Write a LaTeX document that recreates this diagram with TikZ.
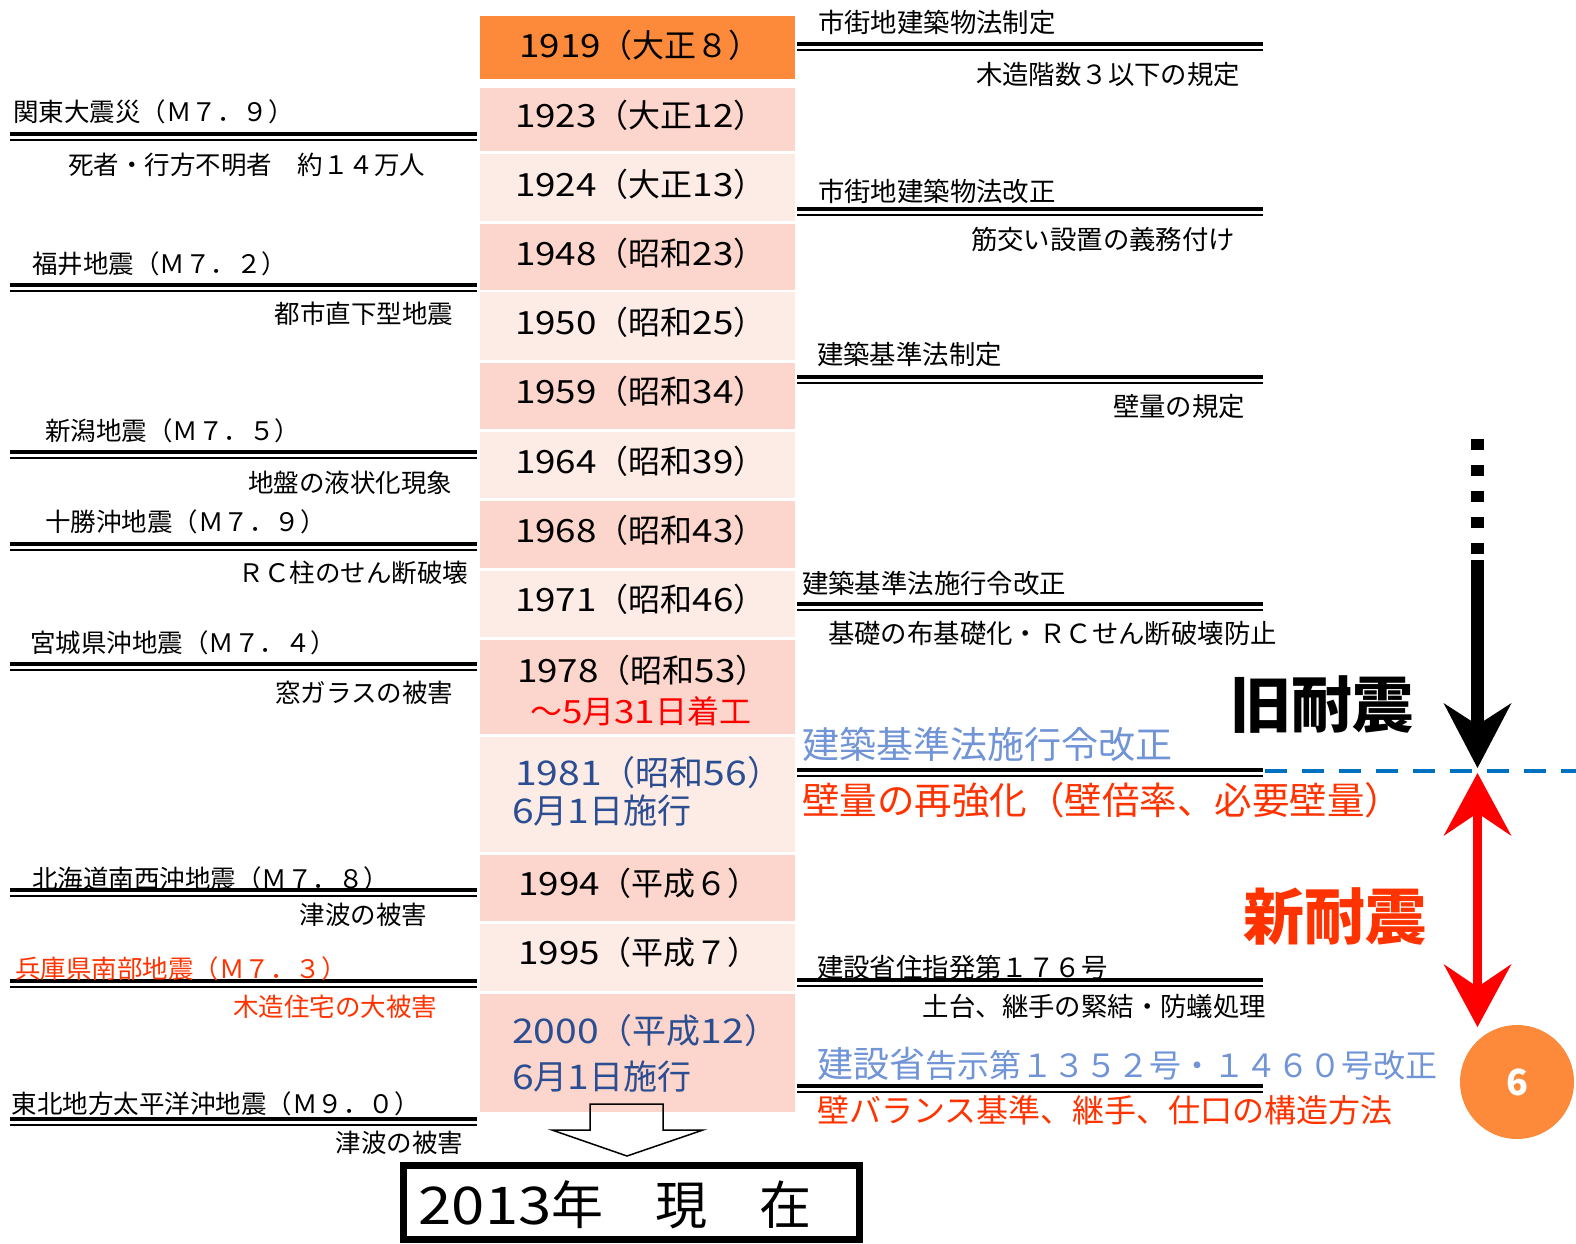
\documentclass[tikz,border=0pt]{standalone}
\usepackage{fontspec}
\setmainfont{Noto Sans CJK JP}
\newfontfamily\digitfont{Noto Sans CJK JP}[FakeStretch=1.15]
\newcommand\dg[1]{{\digitfont #1}}
\usetikzlibrary{arrows.meta}
\definecolor{boxorange}{RGB}{252,138,58}
\definecolor{rowdark}{RGB}{252,214,204}
\definecolor{rowlight}{RGB}{253,235,230}
\definecolor{alertred}{RGB}{255,51,0}
\definecolor{purered}{RGB}{255,0,0}
\definecolor{lawblue}{RGB}{112,148,214}
\definecolor{yearblue}{RGB}{43,77,145}
\definecolor{dashblue}{RGB}{0,112,192}
\tikzset{
  every node/.style={inner sep=0pt, outer sep=0pt},
  sml/.style={font=\fontsize{25.5}{30}\selectfont, text height=22pt, text depth=2.5pt},
  smr/.style={font=\fontsize{26.4}{30}\selectfont, text height=22.7pt, text depth=2.6pt},
  yr/.style={font=\fontsize{32}{36}\selectfont, text height=27.5pt, text depth=3.2pt},
  yrb/.style={font=\fontsize{34}{38}\selectfont, text height=29.2pt, text depth=3.4pt, text=yearblue},
  bigA/.style={font=\fontsize{37}{40}\selectfont, text height=31.8pt, text depth=3.7pt},
  bigB/.style={font=\fontsize{37.5}{40}\selectfont, text height=32.2pt, text depth=3.7pt},
  huge/.style={font=\bfseries\fontsize{61}{66}\selectfont, text height=52.5pt, text depth=6.1pt},
  rowbox/.style={minimum width=315pt, anchor=north west},
  ruleA/.style={line width=3.2pt},
  ruleB/.style={line width=2.6pt},
}
\newcommand\dblrule[3]{\draw[ruleA] (#1,#3) -- (#2,#3); \draw[ruleB] (#1,#3+6) -- (#2,#3+6);}
\begin{document}
\begin{tikzpicture}[x=1pt,y=-1pt]
\useasboundingbox[fill=white] (0,0) rectangle (1576,1243);

% timeline rows
\node[rowbox, fill=boxorange, minimum height=63pt] (r1919) at (480,16) {};
\node[rowbox, fill=rowdark,  minimum height=63pt] (r1923) at (480,88) {};
\node[rowbox, fill=rowlight, minimum height=67pt] (r1924) at (480,154) {};
\node[rowbox, fill=rowdark,  minimum height=66pt] (r1948) at (480,224) {};
\node[rowbox, fill=rowlight, minimum height=68pt] (r1950) at (480,292) {};
\node[rowbox, fill=rowdark,  minimum height=66pt] (r1959) at (480,363) {};
\node[rowbox, fill=rowlight, minimum height=66pt] (r1964) at (480,432) {};
\node[rowbox, fill=rowdark,  minimum height=67pt] (r1968) at (480,501) {};
\node[rowbox, fill=rowlight, minimum height=66pt] (r1971) at (480,571) {};
\node[rowbox, fill=rowdark,  minimum height=94pt] (r1978) at (480,640) {};
\node[rowbox, fill=rowlight, minimum height=115pt] (r1981) at (480,737) {};
\node[rowbox, fill=rowdark,  minimum height=66pt] (r1994) at (480,855) {};
\node[rowbox, fill=rowlight, minimum height=67pt] (r1995) at (480,924) {};
\node[rowbox, fill=rowdark,  minimum height=118pt] (r2000) at (480,994) {};

% year texts
\node[yr] (t1919) at (640,45) {\dg{1919}（大正８）};
\node[yr, anchor=west] (t1923) at (515,115) {\dg{1923}（大正\dg{12}）};
\node[yr, anchor=west] (t1924) at (515,184) {\dg{1924}（大正\dg{13}）};
\node[yr, anchor=west] (t1948) at (515,253) {\dg{1948}（昭和\dg{23}）};
\node[yr, anchor=west] (t1950) at (515,322) {\dg{1950}（昭和\dg{25}）};
\node[yr, anchor=west] (t1959) at (515,391) {\dg{1959}（昭和\dg{34}）};
\node[yr, anchor=west] (t1964) at (515,461) {\dg{1964}（昭和\dg{39}）};
\node[yr, anchor=west] (t1968) at (515,530) {\dg{1968}（昭和\dg{43}）};
\node[yr, anchor=west] (t1971) at (515,599) {\dg{1971}（昭和\dg{46}）};
\node[yr, anchor=west] (t1978) at (517,670) {\dg{1978}（昭和\dg{53}）};
\node[yr, anchor=west, text=purered] (t1978b) at (530,711) {～\dg{5}月\dg{31}日着工};
\node[yrb, anchor=west] (t1981) at (515,773) {\dg{1981}（昭和\dg{56}）};
\node[yrb, anchor=west] (t1981b) at (512,811) {\dg{6}月\dg{1}日施行};
\node[yr] (t1994) at (639,883) {\dg{1994}（平成６）};
\node[yr] (t1995) at (639,952) {\dg{1995}（平成７）};
\node[yrb, anchor=west] (t2000) at (512,1031) {\dg{2000}（平成\dg{12}）};
\node[yrb, anchor=west] (t2000b) at (512,1077) {\dg{6}月\dg{1}日施行};

% left: earthquakes
\dblrule{10}{477}{134}
\dblrule{10}{477}{285}
\dblrule{10}{477}{452}
\dblrule{10}{477}{544}
\dblrule{10}{477}{664}
\dblrule{10}{477}{890}
\dblrule{10}{477}{981}
\dblrule{10}{477}{1119}
\node[sml, anchor=west] (kanto) at (13,112) {関東大震災（Ｍ７．９）};
\node[sml, anchor=east] (kantoS) at (425,165) {死者・行方不明者　約１４万人};
\node[sml, anchor=west] (fukui) at (32,264) {福井地震（Ｍ７．２）};
\node[sml, anchor=east] (fukuiS) at (453,314) {都市直下型地震};
\node[sml, anchor=west] (niigata) at (45,431) {新潟地震（Ｍ７．５）};
\node[sml, anchor=east] (niigataS) at (452,483) {地盤の液状化現象};
\node[sml, anchor=west] (tokachi) at (45,522) {十勝沖地震（Ｍ７．９）};
\node[sml, anchor=east] (tokachiS) at (468,573) {ＲＣ柱のせん断破壊};
\node[sml, anchor=west] (miyagi) at (30,643) {宮城県沖地震（Ｍ７．４）};
\node[sml, anchor=east] (miyagiS) at (453,693) {窓ガラスの被害};
\node[sml, anchor=west] (hokkaido) at (32,879) {北海道南西沖地震（Ｍ７．８）};
\node[sml, anchor=east] (hokkaidoS) at (427,915) {津波の被害};
\node[sml, anchor=west, text=alertred] (hyogo) at (15,969) {兵庫県南部地震（Ｍ７．３）};
\node[sml, anchor=east, text=alertred] (hyogoS) at (437,1007) {木造住宅の大被害};
\node[sml, anchor=west] (tohoku) at (12,1104) {東北地方太平洋沖地震（Ｍ９．０）};
\node[sml, anchor=east] (tohokuS) at (463,1143) {津波の被害};

% right: laws
\dblrule{797}{1263}{44}
\dblrule{797}{1263}{209}
\dblrule{797}{1263}{377}
\dblrule{797}{1263}{604}
\dblrule{797}{1263}{770}
\dblrule{797}{1263}{980}
\dblrule{797}{1263}{1086}
\node[smr, anchor=west] (law1) at (818,22) {市街地建築物法制定};
\node[smr, anchor=east] (law1S) at (1240,74) {木造階数３以下の規定};
\node[smr, anchor=west] (law2) at (818,191) {市街地建築物法改正};
\node[smr, anchor=east] (law2S) at (1235,239) {筋交い設置の義務付け};
\node[smr, anchor=west] (law3) at (817,354) {建築基準法制定};
\node[smr, anchor=east] (law3S) at (1245,406) {壁量の規定};
\node[smr, anchor=west] (law4) at (802,583) {建築基準法施行令改正};
\node[smr, anchor=west] (law4S) at (828,633) {基礎の布基礎化・ＲＣせん断破壊防止};
\node[bigA, anchor=west, text=lawblue] (law5) at (802,744) {建築基準法施行令改正};
\node[bigB, anchor=west, text=alertred] (law5S) at (802,800) {壁量の再強化（壁倍率、必要壁量）};
\node[smr, anchor=west] (law6) at (817,967) {建設省住指発第１７６号};
\node[smr, anchor=east] (law6S) at (1266,1006) {土台、継手の緊結・防蟻処理};
\node[bigA, anchor=west, text=lawblue, font=\fontsize{32}{36}\selectfont] (law7) at (817,1063) {{\fontsize{36}{40}\selectfont 建設省}告示第１３５２号・１４６０号改正};
\node[yr, anchor=west, text=alertred] (law7S) at (817,1110) {壁バランス基準、継手、仕口の構造方法};

% boundary dashed line
\coordinate (dashL) at (1265,771);
\coordinate (dashR) at (1576,771);
\draw[dashblue, line width=4pt, dash pattern=on 22pt off 15pt] (dashL) -- (dashR);

% old-standard arrow (black)
\coordinate (dotsTop) at (1477.5,439);
\coordinate (dotsEnd) at (1477.5,557);
\coordinate (oldStart) at (1477.5,560);
\coordinate (oldTip) at (1477.5,768);
\draw[line width=13pt, dash pattern=on 11pt off 15pt] (dotsTop) -- (dotsEnd);
\draw[line width=13pt] (oldStart) -- ([yshift=40pt]oldTip);
\fill ([shift={(-34,-65)}]oldTip) -- ([shift={(0,-43)}]oldTip) -- ([shift={(34,-65)}]oldTip) -- (oldTip) -- cycle;

% new-standard arrow (red, both ways)
\coordinate (newTop) at (1477.5,773);
\coordinate (newBot) at (1477.5,1027);
\draw[purered, line width=9pt] ([yshift=-35pt]newTop) -- ([yshift=35pt]newBot);
\fill[purered] ([shift={(-34,63)}]newTop) -- ([shift={(0,40)}]newTop) -- ([shift={(34,63)}]newTop) -- (newTop) -- cycle;
\fill[purered] ([shift={(-34,-63)}]newBot) -- ([shift={(0,-40)}]newBot) -- ([shift={(34,-63)}]newBot) -- (newBot) -- cycle;

\node[huge, anchor=west] (oldlabel) at (1230,704) {旧耐震};
\node[huge, anchor=west, text=alertred] (newlabel) at (1243,916) {新耐震};

% page number circle
\node[circle, fill=boxorange, minimum size=114pt, text=white, font=\bfseries\fontsize{36}{40}\selectfont] (pagenum) at (1517,1082) {6};

% hollow arrow down to present
\draw[line width=1.5pt, line join=miter] (590,1104) -- (663,1104) -- (663,1130) -- (703,1130) -- (627,1156) -- (552,1130) -- (590,1130) -- cycle;
\node[draw, line width=7pt, minimum width=456pt, minimum height=74pt] (nowbox) at (631.5,1202.5) {};
\node[font=\fontsize{52}{56}\selectfont, text height=44.5pt, text depth=5pt] (nowtext) at (615,1205) {\dg{2013}年　現　在};
\end{tikzpicture}
\end{document}
